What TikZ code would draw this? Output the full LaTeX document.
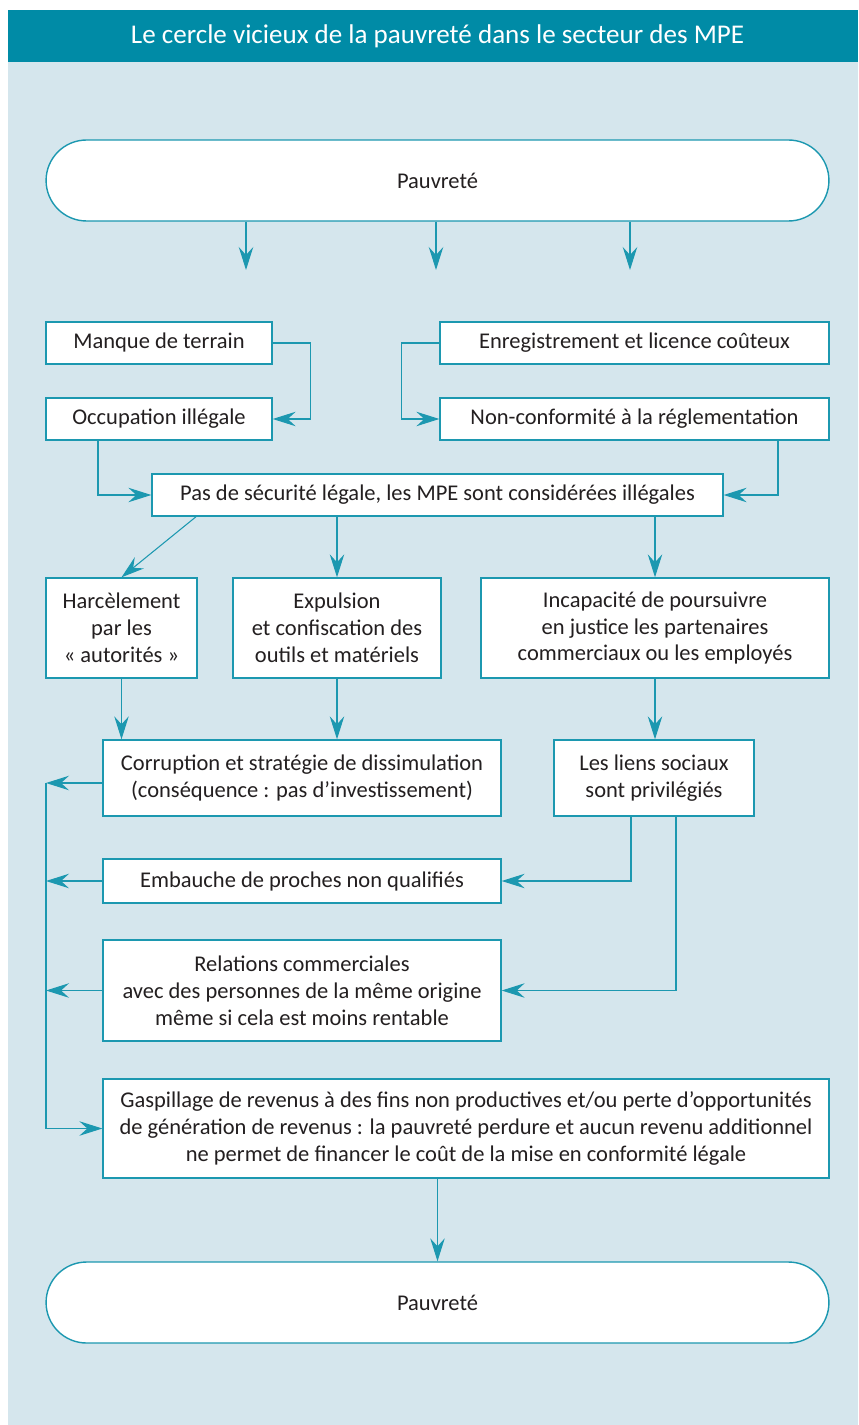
\documentclass[tikz,border=0pt]{standalone}
\usepackage{fontspec}
\setmainfont{Carlito}
\usetikzlibrary{arrows.meta}

\definecolor{titleteal}{RGB}{0,139,166}
\definecolor{panelblue}{RGB}{213,230,237}
\definecolor{linkteal}{RGB}{28,152,176}
\definecolor{textgray}{RGB}{35,31,32}

\tikzset{
  box/.style={draw=linkteal, line width=0.8pt, fill=white, text=textgray,
    align=center, inner sep=0pt, font=\fontsize{12.8}{15.3}\selectfont},
  pill/.style={box, rounded corners=0.81cm, minimum width=15.66cm, minimum height=1.62cm},
  link/.style={draw=linkteal, line width=0.6pt,
    -{Stealth[length=0.46cm,width=0.29cm,inset=0.16cm]}},
}

\begin{document}
\begin{tikzpicture}[x=0.02cm,y=-0.02cm]
  % 画布与背景
  \useasboundingbox (0,0) rectangle (858,1425);
  \fill[white] (0,0) rectangle (858,1425);
  \fill[panelblue] (8,62) rectangle (858,1425);
  \fill[titleteal] (8,10) rectangle (858,62);
  \node[text=white, font=\fontsize{15.4}{17}\selectfont] (title) at (437.5,36)
    {Le cercle vicieux de la pauvreté dans le secteur des MPE};

  % 上方的贫困
  \node[pill] (pauvTop) at (437.5,180.5) {Pauvreté};
  \foreach \x in {246, 436, 630} {
    \coordinate (drop\x) at (\x,270);
    \draw[link] (drop\x |- pauvTop.south) -- (drop\x);
  }

  % 第一组方框
  \node[box, minimum width=4.52cm, minimum height=0.84cm] (manque) at (159,343) {Manque de terrain};
  \node[box, minimum width=4.52cm, minimum height=0.84cm] (occup) at (159,419) {Occupation illégale};
  \node[box, minimum width=7.78cm, minimum height=0.84cm] (enreg) at (634.5,343) {Enregistrement et licence coûteux};
  \node[box, minimum width=7.78cm, minimum height=0.84cm] (nonconf) at (634.5,419) {Non-conformité à la réglementation};
  \node[box, minimum width=11.42cm, minimum height=0.84cm] (pas) at (437.5,495)
    {Pas de sécurité légale, les MPE sont considérées illégales};

  \draw[link] (manque.east) -- ++(0.76cm,0) |- (occup.east);
  \draw[link] (enreg.west) -- ++(-0.76cm,0) |- (nonconf.west);
  \draw[link] ([xshift=-1.22cm]occup.south) |- (pas.west);
  \draw[link] ([xshift=2.87cm]nonconf.south) |- (pas.east);

  % 第二组方框
  \node[box, minimum width=3.02cm, minimum height=2cm] (harc) at (121.5,628)
    {Harcèlement\\par les\\« autorités »};
  \node[box, minimum width=4.16cm, minimum height=2cm] (expul) at (337,628)
    {Expulsion\\et confiscation des\\outils et matériels};
  \node[box, minimum width=6.96cm, minimum height=2cm] (incap) at (655,628)
    {Incapacité de poursuivre\\en justice les partenaires\\commerciaux ou les employés};

  \draw[link] ([xshift=-4.83cm]pas.south) -- (harc.north);
  \draw[link] (pas.south -| expul.north) -- (expul.north);
  \draw[link] (pas.south -| incap.north) -- (incap.north);

  % 第三组方框
  \node[box, minimum width=7.96cm, minimum height=1.52cm] (corr) at (302,778)
    {Corruption et stratégie de dissimulation\\(conséquence : pas d’investissement)};
  \node[box, minimum width=4cm, minimum height=1.52cm] (liens) at (654,778)
    {Les liens sociaux\\sont privilégiés};
  \node[box, minimum width=7.96cm, minimum height=0.88cm] (embau) at (302,881)
    {Embauche de proches non qualifiés};
  \node[box, minimum width=7.96cm, minimum height=2.02cm] (relat) at (302,990.5)
    {Relations commerciales\\avec des personnes de la même origine\\même si cela est moins rentable};
  \node[box, minimum width=14.52cm, minimum height=1.98cm] (gasp) at (466,1128.5)
    {Gaspillage de revenus à des fins non productives et/ou perte d’opportunités\\
     de génération de revenus : la pauvreté perdure et aucun revenu additionnel\\
     ne permet de financer le coût de la mise en conformité légale};

  \draw[link] (harc.south) -- (harc.south |- corr.north);
  \draw[link] (expul.south) -- (expul.south |- corr.north);
  \draw[link] (incap.south) -- (incap.south |- liens.north);
  \draw[link] ([xshift=-0.46cm]liens.south) |- (embau.east);
  \draw[link] ([xshift=0.44cm]liens.south) |- (relat.east);

  % 左侧回路
  \coordinate (bus) at (46,1128.5);
  \draw[linkteal, line width=0.6pt] ([yshift=-0.1cm]corr.west -| bus) -- (bus);
  \draw[link] ([yshift=-0.1cm]corr.west) -- ([yshift=-0.1cm]corr.west -| bus);
  \foreach \n in {embau, relat}
    \draw[link] (\n.west) -- (\n.west -| bus);
  \draw[link] (bus) -- (gasp.west);

  % 下方的贫困
  \node[pill] (pauvBot) at (437.5,1302.5) {Pauvreté};
  \draw[link] (pauvBot.north |- gasp.south) -- (pauvBot.north);
\end{tikzpicture}
\end{document}
